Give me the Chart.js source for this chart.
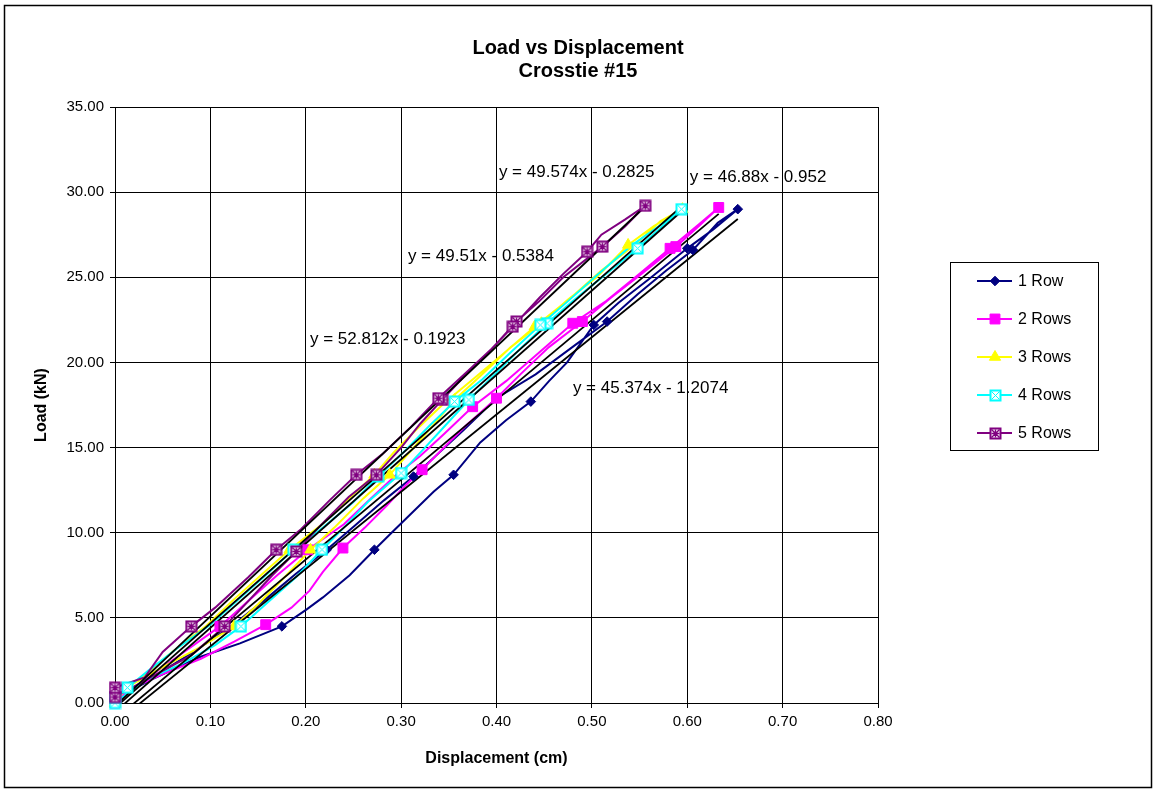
<!DOCTYPE html>
<html>
<head>
<meta charset="utf-8">
<script src="https://cdn.jsdelivr.net/npm/chart.js"></script>
<style>
  html, body { margin: 0; padding: 0; background: #fff; }
  canvas { display: block; }
</style>
</head>
<body>
<canvas id="chart" width="1156" height="791" style="width:1156px;height:791px"></canvas>
<script>
// ---- Measured load / displacement paths (loading up, then unloading back) ----
const seriesNames = ['1 Row', '2 Rows', '3 Rows', '4 Rows', '5 Rows'];

const row1Disp = [0, 0.012, 0.037, 0.089, 0.131, 0.175, 0.201, 0.218, 0.246, 0.272, 0.290, 0.312, 0.334, 0.355, 0.383, 0.410, 0.436, 0.455, 0.474, 0.502, 0.528, 0.560, 0.600, 0.627, 0.653,
                  0.632, 0.606, 0.578, 0.548, 0.516, 0.482, 0.441, 0.400, 0.365, 0.338, 0.313, 0.282, 0.251, 0.222, 0.190, 0.158, 0.122, 0.085, 0.048, 0.015, 0];
const row1Load = [0, 0.6, 1.35, 2.7, 3.5, 4.5, 5.5, 6.2, 7.5, 9.0, 10.0, 11.2, 12.4, 13.4, 15.3, 16.6, 17.7, 18.9, 20.0, 22.2, 23.5, 24.9, 26.7, 27.8, 29.0,
                  28.2, 26.6, 25.4, 24.0, 22.4, 21.0, 19.3, 17.9, 16.0, 14.6, 13.3, 11.9, 10.4, 9.0, 7.6, 6.1, 4.5, 3.1, 1.8, 0.7, 0];
const row1MarkDisp = [0, 0.175, 0.272, 0.355, 0.436, 0.502, 0.600, 0.653, 0.606, 0.516, 0.400, 0.313, 0.222];
const row1MarkLoad = [0, 4.5, 9.0, 13.4, 17.7, 22.2, 26.7, 29.0, 26.6, 22.4, 17.9, 13.3, 9.0];

const row2Disp = [0, 0.015, 0.050, 0.090, 0.125, 0.158, 0.185, 0.204, 0.218, 0.239, 0.262, 0.285, 0.305, 0.322, 0.345, 0.368, 0.400, 0.425, 0.455, 0.490, 0.520, 0.552, 0.588, 0.610, 0.633,
                  0.612, 0.582, 0.550, 0.515, 0.480, 0.445, 0.410, 0.375, 0.345, 0.320, 0.295, 0.268, 0.240, 0.202, 0.170, 0.140, 0.110, 0.075, 0.040, 0.010, 0];
const row2Load = [0, 0.8, 1.7, 2.6, 3.6, 4.6, 5.6, 6.6, 7.7, 9.1, 10.3, 11.6, 12.8, 13.7, 15.0, 16.3, 17.9, 19.3, 20.9, 22.4, 23.8, 25.2, 26.8, 27.9, 29.1,
                  28.1, 26.7, 25.2, 23.6, 22.3, 20.6, 18.9, 17.4, 15.8, 14.5, 13.4, 12.0, 10.5, 9.0, 7.5, 6.0, 4.5, 3.1, 1.7, 0.5, 0];
const row2MarkDisp = [0, 0.158, 0.239, 0.322, 0.400, 0.490, 0.588, 0.633, 0.582, 0.480, 0.375, 0.202, 0.110];
const row2MarkLoad = [0, 4.6, 9.1, 13.7, 17.9, 22.4, 26.8, 29.1, 26.7, 22.3, 17.4, 9.0, 4.5];

const row3Disp = [0, 0.012, 0.050, 0.090, 0.125, 0.150, 0.178, 0.205, 0.230, 0.260, 0.288, 0.310, 0.335, 0.356, 0.385, 0.415, 0.447, 0.475, 0.505, 0.538, 0.565, 0.595,
                  0.572, 0.545, 0.510, 0.478, 0.440, 0.405, 0.375, 0.345, 0.315, 0.292, 0.272, 0.245, 0.215, 0.183, 0.155, 0.125, 0.095, 0.060, 0.030, 0];
const row3Load = [0, 0.9, 2.1, 3.3, 4.5, 5.8, 7.4, 9.0, 10.3, 12.0, 13.4, 14.8, 16.4, 17.8, 19.3, 20.9, 22.3, 23.7, 25.0, 26.9, 28.0, 29.0,
                  28.3, 26.9, 25.4, 23.8, 22.1, 20.4, 19.0, 17.6, 16.0, 14.7, 13.4, 12.0, 10.4, 9.0, 7.6, 6.1, 4.5, 3.0, 1.6, 0.3];
const row3MarkDisp = [0, 0.125, 0.205, 0.288, 0.356, 0.447, 0.538, 0.595, 0.440, 0.272, 0.183];
const row3MarkLoad = [0, 4.5, 9.0, 13.4, 17.8, 22.3, 26.9, 29.0, 22.1, 13.4, 9.0];

const row4Disp = [0, 0.030, 0.070, 0.105, 0.132, 0.160, 0.190, 0.217, 0.240, 0.265, 0.300, 0.325, 0.348, 0.371, 0.400, 0.425, 0.453, 0.480, 0.515, 0.548, 0.572, 0.594,
                  0.570, 0.540, 0.505, 0.475, 0.446, 0.415, 0.385, 0.356, 0.330, 0.302, 0.276, 0.250, 0.218, 0.187, 0.160, 0.130, 0.100, 0.065, 0.035, 0.013, 0];
const row4Load = [0, 1.3, 2.3, 3.4, 4.5, 5.9, 7.4, 9.0, 10.3, 11.8, 13.5, 15.0, 16.4, 17.8, 19.4, 20.8, 22.3, 23.6, 25.2, 26.7, 27.9, 29.0,
                  28.0, 26.8, 25.1, 23.6, 22.2, 20.6, 19.0, 17.7, 16.3, 14.7, 13.3, 11.8, 10.3, 9.0, 7.6, 6.1, 4.6, 3.2, 1.9, 0.9, 0.3];
const row4MarkDisp = [0, 0.132, 0.217, 0.300, 0.371, 0.453, 0.548, 0.594, 0.446, 0.356, 0.276, 0.187, 0.013, 0];
const row4MarkLoad = [0, 4.5, 9.0, 13.5, 17.8, 22.3, 26.7, 29.0, 22.2, 17.7, 13.3, 9.0, 0.9, 0.3];

const row5Disp = [0, 0.040, 0.080, 0.115, 0.140, 0.165, 0.190, 0.215, 0.245, 0.274, 0.300, 0.320, 0.343, 0.370, 0.395, 0.421, 0.445, 0.470, 0.511, 0.535, 0.556,
                  0.535, 0.510, 0.495, 0.470, 0.445, 0.417, 0.395, 0.370, 0.339, 0.310, 0.280, 0.253, 0.225, 0.195, 0.169, 0.140, 0.105, 0.080, 0.050, 0.031, 0];
const row5Load = [0.35, 1.6, 2.8, 4.5, 6.0, 7.5, 8.9, 10.4, 12.1, 13.4, 15.0, 16.4, 17.8, 19.4, 20.8, 22.4, 23.6, 25.0, 26.8, 28.0, 29.2,
                  28.4, 27.5, 26.5, 25.2, 23.8, 22.1, 20.8, 19.5, 17.9, 16.2, 14.6, 13.4, 11.9, 10.2, 9.0, 7.4, 5.6, 4.5, 3.0, 1.5, 0.9];
const row5MarkDisp = [0, 0.115, 0.190, 0.274, 0.343, 0.421, 0.511, 0.556, 0.495, 0.417, 0.339, 0.253, 0.169, 0.080, 0];
const row5MarkLoad = [0.35, 4.5, 8.9, 13.4, 17.8, 22.4, 26.8, 29.2, 26.5, 22.1, 17.9, 13.4, 9.0, 4.5, 0.9];

// ---- Linear trendlines (y = slope * x + intercept) ----
const trendSlope = [45.374, 46.88, 49.51, 49.574, 52.812];
const trendIntercept = [-1.2074, -0.952, -0.5384, -0.2825, -0.1923];

// ---- Axis ticks ----
const xTickValues = [0, 0.1, 0.2, 0.3, 0.4, 0.5, 0.6, 0.7, 0.8];
const yTickValues = [0, 5, 10, 15, 20, 25, 30, 35];

// ---- Styling / layout ----
const seriesColors = ['#000080', '#FF00FF', '#FFFF00', '#00FFFF', '#800080'];
const eqAnchorX = [0.4801, 0.6027, 0.3071, 0.4025, 0.2044];
const eqAnchorY = [18.50, 30.89, 26.25, 31.18, 21.37];
const FONT = '"Liberation Sans", Arial, sans-serif';

const allDisp = [row1Disp, row2Disp, row3Disp, row4Disp, row5Disp];
const allLoad = [row1Load, row2Load, row3Load, row4Load, row5Load];
const allMarkDisp = [row1MarkDisp, row2MarkDisp, row3MarkDisp, row4MarkDisp, row5MarkDisp];
const allMarkLoad = [row1MarkLoad, row2MarkLoad, row3MarkLoad, row4MarkLoad, row5MarkLoad];

function boxMarker(color, withPlus) {
  const s = 13;
  const c = document.createElement('canvas');
  c.width = s; c.height = s;
  const g = c.getContext('2d');
  g.fillStyle = '#fff';
  g.fillRect(1, 1, s - 2, s - 2);
  g.strokeStyle = color;
  g.lineWidth = 2;
  g.strokeRect(1.5, 1.5, s - 3, s - 3);
  g.lineWidth = withPlus ? 1.4 : 1;
  g.beginPath();
  g.moveTo(2.5, 2.5); g.lineTo(s - 2.5, s - 2.5);
  g.moveTo(s - 2.5, 2.5); g.lineTo(2.5, s - 2.5);
  if (withPlus) {
    g.moveTo(s / 2, 2.5); g.lineTo(s / 2, s - 2.5);
    g.moveTo(2.5, s / 2); g.lineTo(s - 2.5, s / 2);
  }
  g.stroke();
  return c;
}

const markerStyles = ['rectRot', 'rect', 'triangle', boxMarker('#00FFFF', false), boxMarker('#800080', true)];
const markerRadius = [4.8, 7, 6.5, 6.5, 6.5];

function toPoints(xs, ys) {
  return xs.map((x, i) => ({ x: x, y: ys[i] }));
}

const datasets = [];
for (let k = 0; k < 5; k++) {
  datasets.push({
    label: seriesNames[k],
    data: toPoints(allDisp[k], allLoad[k]),
    showLine: true,
    borderColor: seriesColors[k],
    borderWidth: 2,
    pointRadius: 0,
    tension: 0,
    order: 50 - k,
    clip: 0
  });
}
for (let k = 0; k < 5; k++) {
  const xMax = Math.max(...allDisp[k]);
  const xMin = Math.min(...allDisp[k]);
  datasets.push({
    label: 'trend ' + seriesNames[k],
    data: [
      { x: xMin, y: trendSlope[k] * xMin + trendIntercept[k] },
      { x: xMax, y: trendSlope[k] * xMax + trendIntercept[k] }
    ],
    showLine: true,
    borderColor: '#000',
    borderWidth: 1.8,
    pointRadius: 0,
    order: 30,
    clip: 0
  });
}
for (let k = 0; k < 5; k++) {
  datasets.push({
    label: 'points ' + seriesNames[k],
    data: toPoints(allMarkDisp[k], allMarkLoad[k]),
    showLine: false,
    pointStyle: markerStyles[k],
    pointRadius: markerRadius[k],
    backgroundColor: seriesColors[k],
    borderColor: seriesColors[k],
    borderWidth: 1,
    order: 20 - k,
    clip: 8
  });
}

function drawLegendMarker(ctx, k, x, y) {
  const st = markerStyles[k];
  const r = markerRadius[k];
  ctx.fillStyle = seriesColors[k];
  ctx.strokeStyle = seriesColors[k];
  ctx.lineWidth = 1;
  if (typeof st !== 'string') {
    ctx.drawImage(st, Math.round(x - st.width / 2), Math.round(y - st.height / 2));
    return;
  }
  ctx.beginPath();
  if (st === 'rectRot') {
    ctx.moveTo(x, y - r); ctx.lineTo(x + r, y); ctx.lineTo(x, y + r); ctx.lineTo(x - r, y);
  } else if (st === 'rect') {
    const h = r * Math.SQRT1_2;
    ctx.rect(x - h, y - h, 2 * h, 2 * h);
  } else if (st === 'triangle') {
    ctx.moveTo(x, y - r);
    ctx.lineTo(x + r * Math.sin(Math.PI * 2 / 3), y - r * Math.cos(Math.PI * 2 / 3));
    ctx.lineTo(x - r * Math.sin(Math.PI * 2 / 3), y - r * Math.cos(Math.PI * 2 / 3));
  }
  ctx.closePath();
  ctx.fill();
  ctx.stroke();
}

const decorations = {
  id: 'decorations',
  afterDraw(chart) {
    const ctx = chart.ctx;
    const xs = chart.scales.x, ys = chart.scales.y;
    const area = chart.chartArea;
    ctx.save();
    ctx.fillStyle = '#000';
    ctx.textBaseline = 'middle';

    // Title
    ctx.textAlign = 'center';
    ctx.font = 'bold 20px ' + FONT;
    ctx.fillText('Load vs Displacement', 578, 48);
    ctx.fillText('Crosstie #15', 578, 71);

    // Axis titles
    ctx.font = 'bold 16px ' + FONT;
    ctx.fillText('Displacement (cm)', (area.left + area.right) / 2, 759);
    ctx.save();
    ctx.translate(42, (area.top + area.bottom) / 2);
    ctx.rotate(-Math.PI / 2);
    ctx.fillText('Load (kN)', 0, 0);
    ctx.restore();

    // Trendline equations
    ctx.textAlign = 'left';
    ctx.font = '17px ' + FONT;
    for (let k = 0; k < 5; k++) {
      const b = trendIntercept[k];
      const txt = 'y = ' + trendSlope[k] + 'x ' + (b < 0 ? '- ' : '+ ') + Math.abs(b);
      ctx.fillText(txt, xs.getPixelForValue(eqAnchorX[k]), ys.getPixelForValue(eqAnchorY[k]));
    }

    // Legend
    ctx.lineWidth = 1;
    ctx.strokeStyle = '#000';
    ctx.strokeRect(950.5, 262.5, 148, 188);
    ctx.font = '16px ' + FONT;
    for (let k = 0; k < 5; k++) {
      const y = 281 + k * 38;
      ctx.strokeStyle = seriesColors[k];
      ctx.lineWidth = 2;
      ctx.beginPath();
      ctx.moveTo(977, y); ctx.lineTo(1012, y);
      ctx.stroke();
      drawLegendMarker(ctx, k, 995, y);
      ctx.fillStyle = '#000';
      ctx.fillText(seriesNames[k], 1018, y + 1);
    }

    // Outer frame
    ctx.strokeStyle = '#000';
    ctx.lineWidth = 1.5;
    ctx.strokeRect(4.5, 5.5, 1147, 782);
    ctx.restore();
  }
};

Chart.defaults.color = '#000';
Chart.defaults.font.family = FONT;

new Chart(document.getElementById('chart'), {
  type: 'scatter',
  data: { datasets: datasets },
  options: {
    responsive: false,
    animation: false,
    devicePixelRatio: 1,
    layout: { padding: { top: 107, right: 278, bottom: 0, left: 0 } },
    plugins: {
      legend: { display: false },
      title: { display: false },
      tooltip: { enabled: false }
    },
    scales: {
      x: {
        type: 'linear',
        min: 0,
        max: 0.8,
        afterFit(scale) { scale.height = 88; },
        afterBuildTicks(scale) { scale.ticks = xTickValues.map(v => ({ value: v })); },
        ticks: {
          font: { size: 15 },
          padding: 5,
          maxRotation: 0,
          autoSkip: false,
          callback: v => Number(v).toFixed(2)
        },
        grid: { color: '#000', lineWidth: 1, tickLength: 5, tickColor: '#000' },
        border: { color: '#000', width: 1 }
      },
      y: {
        type: 'linear',
        min: 0,
        max: 35,
        afterFit(scale) { scale.width = 115; },
        afterBuildTicks(scale) { scale.ticks = yTickValues.map(v => ({ value: v })); },
        ticks: {
          font: { size: 15 },
          padding: 6,
          autoSkip: false,
          callback: v => Number(v).toFixed(2)
        },
        grid: { color: '#000', lineWidth: 1, tickLength: 5, tickColor: '#000' },
        border: { color: '#000', width: 1 }
      }
    }
  },
  plugins: [decorations]
});
</script>
</body>
</html>
